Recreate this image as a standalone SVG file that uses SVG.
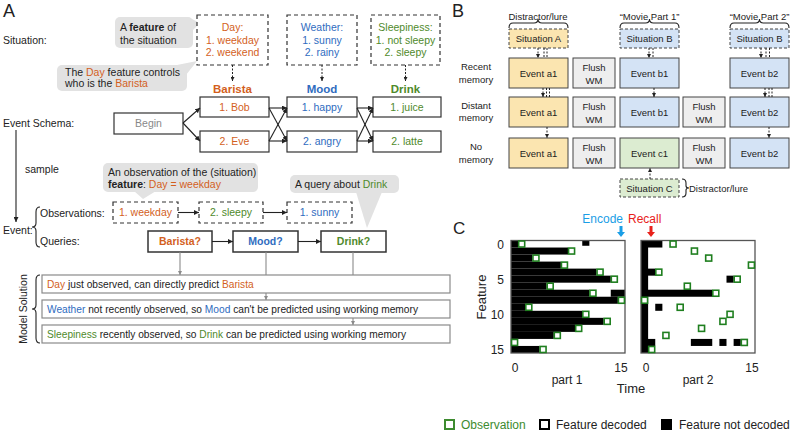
<svg xmlns="http://www.w3.org/2000/svg" width="791" height="431" viewBox="0 0 791 431">
<defs>
<style>
text{font-family:"Liberation Sans",Arial,Helvetica,sans-serif;fill:#222}
.a{font-size:10.5px}
.ms{font-size:10.2px}
.b{font-size:9.5px}
.c12{font-size:12px}
.mid{text-anchor:middle}
.end{text-anchor:end}
.or{fill:#d35f1d}
.bl{fill:#2f6cc0}
.gr{fill:#4f8a2b}
.gy{fill:#888}
.bold{font-weight:bold}
.big{font-size:18px}
.dbox{fill:#fff;stroke:#333;stroke-width:1.2;stroke-dasharray:4 3}
.sbox{fill:#fff;stroke:#333;stroke-width:1.2}
.qbox{fill:#fff;stroke:#333;stroke-width:1.5}
.msbox{fill:#fff;stroke:#8a8a8a;stroke-width:1.2}
.call{fill:#e2e2e2}
.ln{stroke:#222;stroke-width:1.1;fill:none}
.gl{stroke:#8a8a8a;stroke-width:1.1;fill:none}
.dl{stroke:#222;stroke-width:1;fill:none;stroke-dasharray:2 1.5}
.ev{stroke:#444;stroke-width:1}
.ya{fill:#fbe5b0}
.bu{fill:#d4e3f5}
.gn{fill:#dcecd1}
.fl{fill:#eeeeee}
.sit{stroke:#444;stroke-width:1;stroke-dasharray:3 2}
.obs{fill:#fff;stroke:#1f7f1f;stroke-width:1.6}
.frame{fill:none;stroke:#555;stroke-width:1.3}
</style>
<marker id="ah" viewBox="0 0 6 6" refX="6" refY="3" markerWidth="5" markerHeight="5" orient="auto" markerUnits="userSpaceOnUse"><path d="M0,0L6,3L0,6z" fill="#222"/></marker>
<marker id="ahs" viewBox="0 0 6 6" refX="6" refY="3" markerWidth="4" markerHeight="4" orient="auto" markerUnits="userSpaceOnUse"><path d="M0,0L6,3L0,6z" fill="#222"/></marker>
<marker id="ahg" viewBox="0 0 6 6" refX="6" refY="3" markerWidth="4.5" markerHeight="4.5" orient="auto" markerUnits="userSpaceOnUse"><path d="M0,0L6,3L0,6z" fill="#8a8a8a"/></marker>
<rect id="sq" x="-3" y="-3" width="6" height="6" class="obs"/>
</defs>
<rect x="0" y="0" width="791" height="431" fill="#fff"/>

<!-- ========== Panel A ========== -->
<text x="3" y="17" class="big">A</text>
<text class="a" x="3" y="44">Situation:</text>
<text class="a" x="3" y="127">Event Schema:</text>
<text class="a" x="25" y="173">sample</text>
<text class="a" x="40" y="217">Observations:</text>
<text class="a" x="3" y="234">Event:</text>
<text class="a" x="40" y="245">Queries:</text>
<text class="a" transform="translate(27,309) rotate(-90)" text-anchor="middle">Model Solution</text>

<g id="callout-feature">
<rect x="115" y="17" width="78" height="31" rx="5" class="call"/>
<path d="M192,19 L200,23 L192,31z" class="call"/>
<text class="a" x="120" y="31">A <tspan class="bold">feature</tspan> of</text>
<text class="a" x="120" y="44">the situation</text>
</g>
<g id="callout-day">
<rect x="57" y="65" width="130" height="26" rx="5" class="call"/>
<path d="M172,66 L197,61 L186,75z" class="call"/>
<text class="a" x="65" y="76">The <tspan class="or">Day</tspan> feature controls</text>
<text class="a" x="65" y="87">who is the <tspan class="or">Barista</tspan></text>
</g>
<g id="sit-day">
<rect x="197" y="15" width="71" height="50" class="dbox"/>
<text class="a mid or" x="232.5" y="31">Day:</text>
<text class="a mid or" x="232.5" y="44">1. weekday</text>
<text class="a mid or" x="232.5" y="56">2. weekend</text>
</g>
<g id="sit-weather">
<rect x="287" y="15" width="70" height="50" class="dbox"/>
<text class="a mid bl" x="322" y="31">Weather:</text>
<text class="a mid bl" x="322" y="44">1. sunny</text>
<text class="a mid bl" x="322" y="56">2. rainy</text>
</g>
<g id="sit-sleep">
<rect x="371" y="15" width="69" height="50" class="dbox"/>
<text class="a mid gr" x="405.5" y="31">Sleepiness:</text>
<text class="a mid gr" x="405.5" y="44">1. not sleepy</text>
<text class="a mid gr" x="405.5" y="56">2. sleepy</text>
</g>
<text class="mid or bold" x="232.5" y="93" font-size="11.5">Barista</text>
<text class="mid bl bold" x="322" y="93" font-size="11.5">Mood</text>
<text class="mid gr bold" x="405.5" y="93" font-size="11.5">Drink</text>

<g id="begin"><rect x="114" y="113" width="69" height="21" class="sbox"/><text class="a mid gy" x="148.5" y="127">Begin</text></g>
<g id="bob"><rect x="200" y="97" width="69" height="20" class="sbox"/><text class="a mid or" x="234.5" y="111">1. Bob</text></g>
<g id="eve"><rect x="200" y="131" width="69" height="21" class="sbox"/><text class="a mid or" x="234.5" y="145">2. Eve</text></g>
<g id="happy"><rect x="287" y="97" width="70" height="20" class="sbox"/><text class="a mid bl" x="322" y="111">1. happy</text></g>
<g id="angry"><rect x="287" y="131" width="70" height="21" class="sbox"/><text class="a mid bl" x="322" y="145">2. angry</text></g>
<g id="juice"><rect x="373" y="97" width="68" height="20" class="sbox"/><text class="a mid gr" x="407" y="111">1. juice</text></g>
<g id="latte"><rect x="373" y="131" width="68" height="21" class="sbox"/><text class="a mid gr" x="407" y="145">2. latte</text></g>

<g id="callout-obs">
<rect x="103" y="163" width="155" height="29" rx="5" class="call"/>
<path d="M134,191 L156,191 L143,199z" class="call"/>
<text class="a" x="108" y="176">An observation of the (situation)</text>
<text class="a" x="108" y="188"><tspan class="bold">feature</tspan>: <tspan class="or">Day = weekday</tspan></text>
</g>
<g id="callout-query">
<rect x="290" y="175" width="109" height="18" rx="5" class="call"/>
<path d="M356,192 L382,192 L367,228z" class="call"/>
<text class="a" x="295" y="188">A query about <tspan class="gr">Drink</tspan></text>
</g>

<g id="obs1"><rect x="113" y="202" width="65" height="21" class="dbox"/><text class="a mid or" x="145.5" y="216">1. weekday</text></g>
<g id="obs2"><rect x="199" y="202" width="64" height="21" class="dbox"/><text class="a mid gr" x="231" y="216">2. sleepy</text></g>
<g id="obs3"><rect x="287" y="202" width="65" height="21" class="dbox"/><text class="a mid bl" x="319.5" y="216">1. sunny</text></g>
<g id="q-barista"><rect x="148" y="231" width="64" height="21" class="qbox"/><text class="a mid or bold" x="180" y="245">Barista?</text></g>
<g id="q-mood"><rect x="233" y="231" width="65" height="21" class="qbox"/><text class="a mid bl bold" x="265.5" y="245">Mood?</text></g>
<g id="q-drink"><rect x="321" y="231" width="65" height="21" class="qbox"/><text class="a mid gr bold" x="353.5" y="245">Drink?</text></g>

<g id="ms1"><rect x="42" y="275" width="408" height="18" class="msbox"/><text class="ms" x="47" y="288"><tspan class="or">Day</tspan> just observed, can directly predict <tspan class="or">Barista</tspan></text></g>
<g id="ms2"><rect x="42" y="300" width="408" height="18" class="msbox"/><text class="ms" x="47" y="313"><tspan class="bl">Weather</tspan> not recently observed, so <tspan class="bl">Mood</tspan> can't be predicted using working memory</text></g>
<g id="ms3"><rect x="42" y="325" width="408" height="18" class="msbox"/><text class="ms" x="47" y="338"><tspan class="gr">Sleepiness</tspan> recently observed, so <tspan class="gr">Drink</tspan> can be predicted using working memory</text></g>

<g id="connectors-A">
<path d="M232.5,65V81" class="dl" marker-end="url(#ahs)"/>
<path d="M322,65V81" class="dl" marker-end="url(#ahs)"/>
<path d="M405.5,65V81" class="dl" marker-end="url(#ahs)"/>
<path d="M183,123L200,108" class="ln" marker-end="url(#ah)"/>
<path d="M183,123L200,141" class="ln" marker-end="url(#ah)"/>
<path d="M269,108H287" class="ln" marker-end="url(#ah)"/>
<path d="M269,108L287,141" class="ln" marker-end="url(#ah)"/>
<path d="M269,141L287,108" class="ln" marker-end="url(#ah)"/>
<path d="M269,141H287" class="ln" marker-end="url(#ah)"/>
<path d="M357,108H373" class="ln" marker-end="url(#ah)"/>
<path d="M357,108L373,141" class="ln" marker-end="url(#ah)"/>
<path d="M357,141L373,108" class="ln" marker-end="url(#ah)"/>
<path d="M357,141H373" class="ln" marker-end="url(#ah)"/>
<path d="M16,130V222" class="ln" stroke-width="1.3" marker-end="url(#ah)"/>
<path d="M40,207Q36,207 36,212V223Q36,227 32,227Q36,227 36,231V242Q36,247 40,247" class="ln"/>
<path d="M40,275Q36,275 36,280V305Q36,309 32,309Q36,309 36,313V338Q36,343 40,343" class="ln"/>
<path d="M178,212.5H199" class="ln" marker-end="url(#ah)"/>
<path d="M263,212.5H287" class="ln" marker-end="url(#ah)"/>
<path d="M212,241.5H233" class="ln" marker-end="url(#ah)"/>
<path d="M298,241.5H321" class="ln" marker-end="url(#ah)"/>
<path d="M180,252V275" class="gl" marker-end="url(#ahg)"/>
<path d="M266,252V275" class="gl"/>
<path d="M266,293V300" class="gl" marker-end="url(#ahg)"/>
<path d="M353,252V275" class="gl"/>
<path d="M353,318V325" class="gl" marker-end="url(#ahg)"/>
</g>

<!-- ========== Panel B ========== -->
<text x="452" y="17" class="big">B</text>
<text class="b mid" x="538" y="20">Distractor/lure</text>
<text class="b mid" x="649.5" y="20">“Movie Part 1”</text>
<text class="b mid" x="759.5" y="20">“Movie Part 2”</text>
<text class="b mid" x="476" y="70">Recent</text><text class="b mid" x="476" y="83">memory</text>
<text class="b mid" x="476" y="109">Distant</text><text class="b mid" x="476" y="121">memory</text>
<text class="b mid" x="476" y="150">No</text><text class="b mid" x="476" y="163">memory</text>

<g id="sitA"><rect x="509" y="29" width="59" height="19" class="ya sit"/><text class="b mid" x="538.5" y="42">Situation A</text></g>
<g id="sitB1"><rect x="620" y="29" width="59" height="19" class="bu sit"/><text class="b mid" x="649.5" y="42">Situation B</text></g>
<g id="sitB2"><rect x="730" y="29" width="59" height="19" class="bu sit"/><text class="b mid" x="759.5" y="42">Situation B</text></g>
<g id="sitC"><rect x="620" y="179" width="59" height="18" class="gn sit"/><text class="b mid" x="649.5" y="191.5">Situation C</text></g>
<text class="b" x="689" y="191.5">Distractor/lure</text>

<g id="r1a"><rect x="509" y="58" width="59" height="30" class="ya ev"/><text class="b mid" x="538.5" y="76.5">Event a1</text></g>
<g id="r1f"><rect x="573" y="58" width="42" height="30" class="fl ev"/><text class="b mid" x="594" y="70.5">Flush</text><text class="b mid" x="594" y="83.5">WM</text></g>
<g id="r1b"><rect x="620" y="58" width="59" height="30" class="bu ev"/><text class="b mid" x="649.5" y="76.5">Event b1</text></g>
<g id="r1b2"><rect x="730" y="58" width="59" height="30" class="bu ev"/><text class="b mid" x="759.5" y="76.5">Event b2</text></g>

<g id="r2a"><rect x="509" y="97" width="59" height="30" class="ya ev"/><text class="b mid" x="538.5" y="115.5">Event a1</text></g>
<g id="r2f1"><rect x="573" y="97" width="42" height="30" class="fl ev"/><text class="b mid" x="594" y="109.5">Flush</text><text class="b mid" x="594" y="122.5">WM</text></g>
<g id="r2b"><rect x="620" y="97" width="59" height="30" class="bu ev"/><text class="b mid" x="649.5" y="115.5">Event b1</text></g>
<g id="r2f2"><rect x="683" y="97" width="42" height="30" class="fl ev"/><text class="b mid" x="704" y="109.5">Flush</text><text class="b mid" x="704" y="122.5">WM</text></g>
<g id="r2b2"><rect x="730" y="97" width="59" height="30" class="bu ev"/><text class="b mid" x="759.5" y="115.5">Event b2</text></g>

<g id="r3a"><rect x="509" y="138" width="59" height="30" class="ya ev"/><text class="b mid" x="538.5" y="156.5">Event a1</text></g>
<g id="r3f1"><rect x="573" y="138" width="42" height="30" class="fl ev"/><text class="b mid" x="594" y="150.5">Flush</text><text class="b mid" x="594" y="163.5">WM</text></g>
<g id="r3c"><rect x="620" y="138" width="59" height="30" class="gn ev"/><text class="b mid" x="649.5" y="156.5">Event c1</text></g>
<g id="r3f2"><rect x="683" y="138" width="42" height="30" class="fl ev"/><text class="b mid" x="704" y="150.5">Flush</text><text class="b mid" x="704" y="163.5">WM</text></g>
<g id="r3b2"><rect x="730" y="138" width="59" height="30" class="bu ev"/><text class="b mid" x="759.5" y="156.5">Event b2</text></g>

<g id="connectors-B">
<path d="M509,28Q509,23 513,23H534Q538,23 538,19Q538,23 542,23H564Q568,23 568,28" class="ln" stroke-width="0.9"/>
<path d="M620,28Q620,23 624,23H645.5Q649.5,23 649.5,19Q649.5,23 653.5,23H675Q679,23 679,28" class="ln" stroke-width="0.9"/>
<path d="M730,28Q730,23 734,23H755.5Q759.5,23 759.5,19Q759.5,23 763.5,23H785Q789,23 789,28" class="ln" stroke-width="0.9"/>
<path d="M682,179Q686,179 686,183V186Q686,188 689,188Q686,188 686,190V193Q686,197 682,197" class="ln" stroke-width="0.9"/>
<path d="M538,48V58" class="dl" marker-end="url(#ahs)"/>
<path d="M544,48V58M547,48V58" class="dl"/>
<path d="M649,48V58" class="dl" marker-end="url(#ahs)"/>
<path d="M653,48V58" class="dl"/>
<path d="M761,48V58" class="dl" marker-end="url(#ahs)"/>
<path d="M766,48V58M769.5,48V58" class="dl"/>
<path d="M543,88V97" class="dl" marker-end="url(#ahs)"/>
<path d="M546.5,88V97M549.5,88V97" class="dl"/>
<path d="M654,88V97" class="dl" marker-end="url(#ahs)"/>
<path d="M765,88V97" class="dl" marker-end="url(#ahs)"/>
<path d="M769,88V97M772,88V97" class="dl"/>
<path d="M547,127V138" class="dl" marker-end="url(#ahs)"/>
<path d="M769,127V138" class="dl" marker-end="url(#ahs)"/>
<path d="M650,179V168" class="dl" marker-end="url(#ahs)"/>
</g>

<!-- ========== Panel C ========== -->
<text x="453" y="234" font-size="17">C</text>
<text class="c12 end" x="623" y="223" style="fill:#1a9ee6">Encode</text>
<text class="c12" x="628" y="223" style="fill:#e8211a">Recall</text>
<path d="M619.5,226h3v6h2.5l-4,5l-4,-5h2.5z" fill="#1a9ee6"/>
<path d="M649.5,226h3v6h2.5l-4,5l-4,-5h2.5z" fill="#e8211a"/>

<text class="c12 end" x="504" y="248.5">0</text>
<text class="c12 end" x="504" y="283.5">5</text>
<text class="c12 end" x="504" y="318.7">10</text>
<text class="c12 end" x="504" y="353.8">15</text>
<text transform="translate(486,297) rotate(-90)" text-anchor="middle" font-size="13">Feature</text>
<text class="c12 mid" x="515" y="372">0</text>
<text class="c12 mid" x="621" y="372">15</text>
<text class="c12 mid" x="646" y="372">0</text>
<text class="c12 mid" x="752" y="372">15</text>
<text class="c12 mid" x="567" y="384">part 1</text>
<text class="c12 mid" x="698" y="384">part 2</text>
<text class="mid" x="631" y="393" font-size="13">Time</text>

<g id="part1">
<rect x="511" y="240.5" width="114" height="112.5" fill="#fff"/>
<g transform="translate(511,240.5) scale(7.125,7.03)" fill="#000">
<rect x="0" y="0" width="1" height="1"/>
<rect x="10" y="0" width="1" height="0.75"/>
<rect x="0" y="1" width="8" height="1"/>
<rect x="0" y="2" width="3" height="1"/>
<rect x="0" y="3" width="7" height="1"/>
<rect x="0" y="4" width="12" height="1"/>
<rect x="0" y="5" width="14" height="1"/>
<rect x="0" y="6" width="5" height="1"/>
<rect x="0" y="7" width="11" height="1"/>
<rect x="14" y="7" width="2" height="1"/>
<rect x="0" y="8" width="15" height="1"/>
<rect x="0" y="9" width="2" height="1"/>
<rect x="0" y="10" width="10" height="1"/>
<rect x="0" y="11" width="13" height="1"/>
<rect x="0" y="12" width="9" height="1"/>
<rect x="0" y="13" width="6" height="1"/>
<rect x="0" y="15" width="4" height="1"/>
</g>
<rect x="511" y="240.5" width="114" height="112.5" class="frame"/>
<use href="#sq" x="521.69" y="244.02"/>
<use href="#sq" x="571.56" y="251.05"/>
<use href="#sq" x="535.94" y="258.08"/>
<use href="#sq" x="564.44" y="265.11"/>
<use href="#sq" x="600.06" y="272.14"/>
<use href="#sq" x="614.31" y="279.17"/>
<use href="#sq" x="550.19" y="286.2"/>
<use href="#sq" x="592.94" y="293.23"/>
<use href="#sq" x="621.44" y="300.26"/>
<use href="#sq" x="528.81" y="307.29"/>
<use href="#sq" x="585.81" y="314.32"/>
<use href="#sq" x="607.19" y="321.35"/>
<use href="#sq" x="578.69" y="328.38"/>
<use href="#sq" x="557.31" y="335.41"/>
<use href="#sq" x="514.56" y="342.44"/>
<use href="#sq" x="543.06" y="349.47"/>
</g>

<g id="part2">
<rect x="641" y="240.5" width="114" height="112.5" fill="#fff"/>
<g transform="translate(641,240.5) scale(7.125,7.03)" fill="#000">
<rect x="0" y="0" width="1" height="16"/>
<rect x="0" y="0" width="3" height="1"/>
<rect x="0" y="4" width="2" height="1"/>
<rect x="12" y="5" width="1" height="1"/>
<rect x="0" y="7" width="10" height="1"/>
<rect x="2" y="9" width="1" height="1"/>
<rect x="0" y="14" width="2" height="1"/>
<rect x="7" y="14" width="3" height="1"/>
<rect x="11" y="14" width="1" height="1"/>
<rect x="13" y="14" width="1" height="1"/>
</g>
<rect x="641" y="240.5" width="114" height="112.5" class="frame"/>
<use href="#sq" x="673.06" y="244.02"/>
<use href="#sq" x="694.44" y="251.05"/>
<use href="#sq" x="708.69" y="258.08"/>
<use href="#sq" x="751.44" y="265.11"/>
<use href="#sq" x="658.81" y="272.14"/>
<use href="#sq" x="737.19" y="279.17"/>
<use href="#sq" x="687.31" y="286.2"/>
<use href="#sq" x="715.81" y="293.23"/>
<use href="#sq" x="644.56" y="300.26"/>
<use href="#sq" x="680.19" y="307.29"/>
<use href="#sq" x="730.06" y="314.32"/>
<use href="#sq" x="722.94" y="321.35"/>
<use href="#sq" x="701.56" y="328.38"/>
<use href="#sq" x="665.94" y="335.41"/>
<use href="#sq" x="744.31" y="342.44"/>
<use href="#sq" x="651.69" y="349.47"/>
</g>

<g id="legend">
<rect x="445" y="420" width="9" height="9" fill="none" stroke="#3d8b2f" stroke-width="2"/>
<text class="c12" x="461" y="429" style="fill:#3d8b2f">Observation</text>
<rect x="540" y="420" width="9" height="9" fill="none" stroke="#000" stroke-width="2"/>
<text class="c12" x="556" y="429">Feature decoded</text>
<rect x="661" y="419" width="11" height="11" fill="#000"/>
<text class="c12" x="679" y="429">Feature not decoded</text>
</g>
</svg>
